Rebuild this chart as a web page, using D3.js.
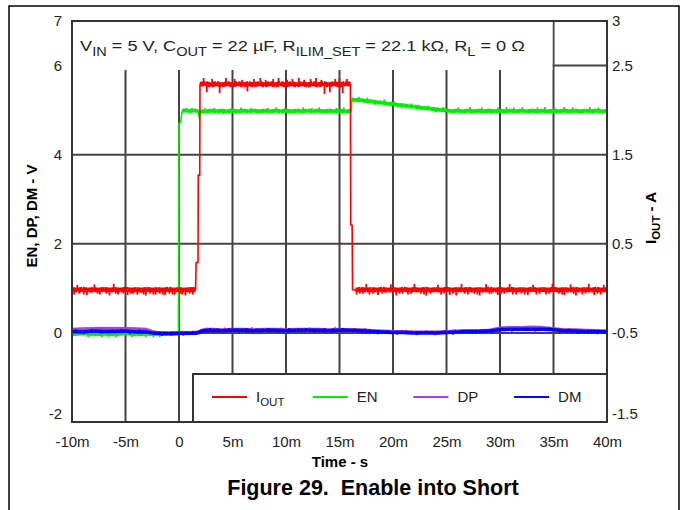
<!DOCTYPE html>
<html><head><meta charset="utf-8">
<script src="https://cdn.jsdelivr.net/npm/d3@7"></script>
<style>
body{margin:0;background:#fff}
svg{display:block}
text{font-family:"Liberation Sans",Arial,Helvetica,sans-serif}
</style>
</head><body>
<svg id="c" width="683" height="510"></svg>
<script>
// ---------- data ----------
const timeTicks = [-10,-5,0,5,10,15,20,25,30,35,40];
const timeTickLabels = ["-10m","-5m","0","5m","10m","15m","20m","25m","30m","35m","40m"];
const leftTicks = [-2,0,2,4,6,7];
const leftTickLabels = ["-2","0","2","4","6","7"];
const rightTicks = [-1.5,-0.5,0.5,1.5,2.5,3];
const rightTickLabels = ["-1.5","-0.5","0.5","1.5","2.5","3"];
const leftGrid = [0,2,4,6];
const seriesNames = ["IOUT","EN","DP","DM"];
const seriesColors = ["#ff0000","#00ee00","#a83cf0","#0000ff"];

// IOUT (A, right axis) vs time (ms)
const iout = [
[-10,-0.012],[-9.5,-0.02],[-9,-0.01],[-8.5,-0.02],[-8,-0.012],[-7.5,-0.02],[-7,-0.01],[-6.5,-0.02],[-6,-0.012],[-5.5,-0.02],[-5,-0.01],[-4.5,-0.02],[-4,-0.012],[-3.5,-0.02],[-3,-0.01],[-2.5,-0.02],[-2,-0.012],[-1.5,-0.02],[-1,-0.01],[-0.5,-0.02],[0,-0.012],[0.5,-0.02],[1,-0.012],[1.55,-0.015],
[1.6,0.29],[1.78,0.29],[1.8,1.27],[1.94,1.27],[1.96,2.29],
[2.5,2.3],[3,2.28],[3.5,2.3],[4,2.28],[4.5,2.3],[5,2.28],[5.5,2.3],[6,2.28],[6.5,2.3],[7,2.28],[7.5,2.3],[8,2.28],[8.5,2.3],[9,2.28],[9.5,2.3],[10,2.28],[10.5,2.3],[11,2.28],[11.5,2.3],[12,2.28],[12.5,2.3],[13,2.28],[13.5,2.3],[14,2.28],[14.5,2.3],[15,2.28],[15.5,2.3],[16.02,2.29],
[16.05,0.71],[16.18,0.71],[16.22,-0.015],
[16.5,-0.02],[17,-0.01],[17.5,-0.02],[18,-0.012],[18.5,-0.02],[19,-0.01],[19.5,-0.02],[20,-0.012],[20.5,-0.02],[21,-0.01],[21.5,-0.02],[22,-0.012],[22.5,-0.02],[23,-0.01],[23.5,-0.02],[24,-0.012],[24.5,-0.02],[25,-0.01],[25.5,-0.02],[26,-0.012],[26.5,-0.02],[27,-0.01],[27.5,-0.02],[28,-0.012],[28.5,-0.02],[29,-0.01],[29.5,-0.02],[30,-0.012],[30.5,-0.02],[31,-0.01],[31.5,-0.02],[32,-0.012],[32.5,-0.02],[33,-0.01],[33.5,-0.02],[34,-0.012],[34.5,-0.02],[35,-0.01],[35.5,-0.02],[36,-0.012],[36.5,-0.02],[37,-0.01],[37.5,-0.02],[38,-0.012],[38.5,-0.02],[39,-0.01],[39.5,-0.02],[40,-0.012]
];
const ioutSpikes = [
[-9.8,-0.07],[-9.5,0.04],[-9.3,-0.06],[-8.9,-0.07],[-8.6,-0.075],[-8.2,-0.05],[-7.9,0.045],[-7.6,-0.06],[-7.4,-0.07],[-6.8,-0.06],[-6.5,-0.08],[-6.1,0.05],[-5.9,-0.06],[-5.7,-0.07],[-5.2,-0.06],[-4.8,-0.075],[-4.5,-0.06],[-4.3,-0.06],[-3.9,-0.07],[-3.5,-0.05],[-3.3,-0.07],[-3.1,-0.08],[-2.7,-0.06],[-2.4,-0.07],[-2.2,-0.07],[-1.8,-0.06],[-1.5,-0.07],[-1.3,-0.075],[-0.9,-0.06],[-0.6,-0.07],[-0.4,-0.07],[0.1,-0.06],[0.3,-0.07],[0.6,-0.08],[1.0,-0.06],[1.3,-0.07],
[2.3,2.36],[2.6,2.2],[3.1,2.35],[3.8,2.19],[4.4,2.36],[5.2,2.35],[5.9,2.34],[6.4,2.21],[7.0,2.35],[7.6,2.36],[8.1,2.34],[8.8,2.35],[9.3,2.36],[10.1,2.34],[10.6,2.35],[11.2,2.36],[11.7,2.34],[12.3,2.35],[12.8,2.36],[13.3,2.34],[13.6,2.18],[14.1,2.2],[14.6,2.35],[15.0,2.36],[15.3,2.19],[15.7,2.35],
[16.6,-0.07],[16.9,-0.06],[17.2,-0.06],[17.5,0.05],[17.8,-0.07],[18.1,-0.06],[18.6,-0.075],[19.0,-0.06],[19.3,-0.05],[19.8,0.045],[20.3,-0.08],[20.6,-0.06],[20.9,-0.06],[21.4,-0.07],[21.7,-0.06],[22.0,0.05],[22.6,-0.06],[22.9,-0.07],[23.1,-0.08],[23.5,-0.06],[24.2,0.04],[24.5,-0.07],[24.8,-0.06],[25.3,-0.075],[25.6,-0.06],[25.9,-0.08],[26.4,0.05],[26.7,-0.06],[27.0,-0.07],[27.6,-0.06],[27.9,-0.07],[28.1,-0.08],[28.7,0.045],[29.0,-0.06],[29.2,-0.06],[29.8,-0.075],[30.1,-0.06],[30.4,-0.06],[30.9,0.05],[31.2,-0.07],[31.5,-0.07],[32.0,-0.06],[32.3,-0.07],[32.6,-0.075],[33.1,0.04],[33.4,-0.07],[33.7,-0.06],[34.3,-0.07],[34.6,-0.06],[34.9,0.05],[35.5,-0.06],[35.8,-0.07],[36.0,-0.075],[36.6,0.045],[36.9,-0.06],[37.1,-0.08],[37.7,-0.07],[38.0,-0.06],[38.3,0.05],[38.8,-0.075],[39.1,-0.06],[39.4,-0.07],[39.7,0.04]
];

// EN (V, left axis)
const en = [
[-10,-0.03],[-9,-0.01],[-8,-0.03],[-7,-0.02],[-6,-0.03],[-5,-0.01],[-4,-0.03],[-3,-0.02],[-2,-0.03],[-1,-0.01],[-0.05,-0.02],
[0,4.71],[0.15,4.72],[0.3,4.98],[0.6,5.0],[1.0,4.97],[1.4,5.0],[1.8,4.97],[1.9,4.82],[2.0,4.97],
[2.5,4.97],[3,4.99],[3.5,4.97],[4,4.99],[4.5,4.97],[5,4.99],[5.5,4.97],[6,4.99],[6.5,4.97],[7,4.99],[7.5,4.97],[8,4.99],[8.5,4.97],[9,4.99],[9.5,4.97],[10,4.99],[10.5,4.97],[11,4.99],[11.5,4.97],[12,4.99],[12.5,4.97],[13,4.99],[13.5,4.97],[14,4.99],[14.5,4.97],[15,4.99],[15.5,4.97],[16.1,4.98],
[16.15,5.24],[16.5,5.22],[17,5.23],[17.5,5.2],[18,5.2],[18.5,5.17],[19,5.17],[19.5,5.14],[20,5.14],[20.5,5.11],[21,5.11],[21.5,5.08],[22,5.08],[22.5,5.05],[23,5.05],[23.5,5.03],[24,5.02],[24.5,5.0],[25,5.0],[25.5,4.97],[26,4.99],[26.5,4.97],[27,4.99],[27.5,4.97],[28,4.99],[28.5,4.97],[29,4.99],[29.5,4.97],[30,4.99],[30.5,4.97],[31,4.99],[31.5,4.97],[32,4.99],[32.5,4.97],[33,4.99],[33.5,4.97],[34,4.99],[34.5,4.97],[35,4.99],[35.5,4.97],[36,4.99],[36.5,4.97],[37,4.99],[37.5,4.97],[38,4.99],[38.5,4.97],[39,4.99],[39.5,4.97],[40,4.98]
];
const enSpikes = [
[-8.5,-0.1],[-7.2,-0.1],[-6.6,-0.09],[-5.9,-0.1],[-4.4,-0.09],[-3.1,-0.1],[-2.4,-0.1],[-1.8,-0.09],
[0.7,5.05],[1.2,5.05],[2.4,5.05],[3.3,5.05],[4.1,4.91],[4.9,5.05],[5.8,5.06],[6.7,5.05],[7.4,4.92],[8.3,5.05],[9.1,5.06],[9.9,5.05],[10.8,4.92],[11.6,5.06],[12.4,5.05],[13.1,5.06],[13.9,4.92],[14.7,5.05],[15.4,5.06],
[16.8,5.3],[17.6,5.28],[18.3,5.12],[19.2,5.24],[20.1,5.2],[20.8,5.05],[21.7,5.15],[22.4,5.12],[23.3,5.1],[24.0,4.95],[24.7,5.07],[26.1,5.06],[27.2,5.07],[28.3,5.06],[29.1,4.92],[29.8,5.06],[30.6,5.07],[31.3,5.06],[32.1,5.07],[32.8,4.92],[33.5,5.06],[34.2,5.07],[35.1,5.06],[36.0,5.07],[36.8,5.06],[37.6,4.92],[38.4,5.07],[39.2,5.06]
];

// DP (V, left axis)
const dp = [
[-10,0.07],[-9,0.08],[-8,0.09],[-7,0.09],[-6,0.09],[-5,0.09],[-4,0.08],[-3,0.07],[-2.5,0.02],[-2,0.0],[-1,-0.01],[0,0.0],[1,0.0],[1.8,0.01],[2.2,0.06],[3,0.07],[4,0.06],[5,0.07],[6,0.07],[7,0.06],[8,0.07],[9,0.07],[10,0.06],[11,0.07],[12,0.07],[13,0.07],[14,0.06],[15,0.07],[16,0.06],[17,0.06],[18,0.04],[19,0.03],[20,0.02],[21,0.02],[22,0.01],[23,0.01],[24,0.01],[25,0.02],[26,0.03],[27,0.04],[28,0.04],[29,0.05],[30,0.1],[31,0.11],[32,0.11],[33,0.12],[34,0.11],[35,0.09],[36,0.06],[37,0.06],[38,0.05],[39,0.04],[40,0.03]
];
const dpSpikes = [
[2.6,0.12],[4.3,0.12],[6.8,0.13],[9.5,0.12],[12.2,0.12],[14.6,0.13],[17.4,0.11],[21.2,0.07],[25.8,0.08],[31.6,0.16],[33.8,0.16],[36.4,0.11]
];

// DM (V, left axis)
const dm = [
[-10,0.03],[-9,0.02],[-8,0.04],[-7,0.03],[-6,0.03],[-5,0.04],[-4,0.02],[-3,0.02],[-2.5,0.0],[-2,-0.01],[-1,-0.02],[0,-0.01],[1,-0.01],[1.8,0.0],[2.2,0.05],[3,0.06],[4,0.05],[5,0.06],[6,0.06],[7,0.05],[8,0.06],[9,0.06],[10,0.05],[11,0.06],[12,0.06],[13,0.06],[14,0.05],[15,0.06],[16,0.06],[17,0.05],[18,0.03],[19,0.02],[20,0.01],[21,0.01],[22,0.0],[23,0.0],[24,0.0],[25,0.01],[26,0.02],[27,0.03],[28,0.03],[29,0.04],[30,0.07],[31,0.08],[32,0.08],[33,0.08],[34,0.08],[35,0.07],[36,0.05],[37,0.04],[38,0.03],[39,0.03],[40,0.02]
];
const dmSpikes = [
[-9.6,0.08],[-8.9,-0.03],[-8.1,0.09],[-7.3,-0.02],[-6.2,0.08],[-5.4,0.09],[-4.6,-0.03],[-3.7,0.08],[-1.6,-0.07],[-0.7,-0.06],[0.4,-0.06],[1.3,0.04],
[2.9,0.11],[3.6,0.1],[4.7,0.11],[5.6,0.01],[6.3,0.11],[7.2,0.1],[8.4,0.11],[9.2,0.01],[10.3,0.11],[11.1,0.1],[11.9,0.11],[12.7,0.01],[13.6,0.11],[14.4,0.1],[15.3,0.11],[16.4,0.1],
[17.1,-0.01],[17.8,0.08],[18.6,-0.03],[19.5,0.06],[20.4,-0.04],[21.3,0.05],[22.2,-0.05],[23.1,0.05],[23.9,-0.05],[24.8,0.05],[25.6,-0.04],[26.5,0.07],[27.4,-0.02],[28.2,0.07],[29.2,-0.01],[30.2,0.12],[31.1,0.03],[32.4,0.12],[33.3,0.03],[34.6,0.12],[35.6,0.01],[36.5,0.09],[37.3,-0.02],[38.2,0.07],[39.1,-0.03],[39.8,0.07]
];

const annotationParts = [["V",0],["IN",1],[" = 5 V, C",0],["OUT",1],[" = 22 \u00b5F, R",0],["ILIM_SET",1],[" = 22.1 k\u03a9, R",0],["L",1],[" = 0 \u03a9",0]];

// ---------- drawing ----------
const svg = d3.select("#c");
const L = 72, R = 607, T = 21, B = 422;
const x = d3.scaleLinear().domain([-10,40]).range([L,R]);
const yL = d3.scaleLinear().domain([-2,7]).range([B,T]);
const yR = d3.scaleLinear().domain([-1.5,3]).range([B,T]);
const gridCol = "#444";

// outer figure frame
svg.append("path").attr("d","M9,510V6H679V510").attr("fill","none").attr("stroke","#000").attr("stroke-width",1.5);

// grid
const g = svg.append("g");
g.selectAll(".vg").data(timeTicks.slice(1,-1)).join("line")
  .attr("x1",d=>x(d)).attr("x2",d=>x(d)).attr("y1",T).attr("y2",B)
  .attr("stroke",gridCol).attr("stroke-width",2);
g.selectAll(".hg").data(leftGrid).join("line")
  .attr("x1",L).attr("x2",R).attr("y1",d=>yL(d)).attr("y2",d=>yL(d))
  .attr("stroke",gridCol).attr("stroke-width",2);

// annotation box (white, hides grid)
svg.append("rect").attr("x",L+1).attr("y",T+1).attr("width",x(35)-1-(L+1)).attr("height",48).attr("fill","#fff");
const annG = svg.append("g");
const ann = annG.append("text").attr("x",0).attr("y",0).attr("font-size",15).attr("fill","#222").style("white-space","pre");
let prevSub = 0;
annotationParts.forEach(([s,sub])=>{
  const t = ann.append("tspan").text(s).attr("font-size", sub?12:15);
  if (sub!==prevSub) t.attr("dy", sub?5:-5);
  prevSub = sub;
});
const annW = ann.node().getComputedTextLength();
annG.attr("transform",`translate(80,51) scale(${445/annW},1)`);

// traces
function baseAt(series,t){
  const i = d3.bisector(d=>d[0]).left(series,t);
  if(i<=0) return series[0][1];
  if(i>=series.length) return series[series.length-1][1];
  const a=series[i-1], b=series[i];
  return a[1]+(b[1]-a[1])*(t-a[0])/(b[0]-a[0]);
}
function drawSeries(series, spikes, yS, color, w){
  const line = d3.line().x(d=>x(d[0])).y(d=>yS(d[1]));
  // thin full trace (steps stay thin)
  svg.append("path").datum(series).attr("d",line).attr("fill","none")
    .attr("stroke",color).attr("stroke-width",1.6).attr("stroke-linejoin","round");
  // thick noise band only on long, near-flat segments
  const segs = d3.pairs(series).filter(([a,b])=>Math.abs(yS(a[1])-yS(b[1]))<6 && (x(b[0])-x(a[0]))>3);
  svg.append("g").selectAll("line").data(segs).join("line")
    .attr("x1",d=>x(d[0][0])).attr("x2",d=>x(d[1][0]))
    .attr("y1",d=>yS(d[0][1])).attr("y2",d=>yS(d[1][1]))
    .attr("stroke",color).attr("stroke-width",w).attr("stroke-linecap","butt");
  svg.append("g").selectAll("line").data(spikes).join("line")
    .attr("x1",d=>x(d[0])).attr("x2",d=>x(d[0]))
    .attr("y1",d=>yS(baseAt(series,d[0]))).attr("y2",d=>yS(d[1]))
    .attr("stroke",color).attr("stroke-width",1.8);
}
drawSeries(en, enSpikes, yL, seriesColors[1], 4);
drawSeries(iout, ioutSpikes, yR, seriesColors[0], 5);
drawSeries(dp, dpSpikes, yL, seriesColors[2], 4);
drawSeries(dm, dmSpikes, yL, seriesColors[3], 3.5);

// legend box
const lg = svg.append("g");
lg.append("rect").attr("x",193).attr("y",374).attr("width",R-193).attr("height",B-374).attr("fill","#fff");
lg.append("path").attr("d",`M193,${B}V374H${R}`).attr("fill","none").attr("stroke","#333").attr("stroke-width",2);
seriesNames.forEach((n,i)=>{
  const lx = 212 + i*100.7;
  lg.append("line").attr("x1",lx).attr("x2",lx+35).attr("y1",397).attr("y2",397)
    .attr("stroke",seriesColors[i]).attr("stroke-width",2);
  const t = lg.append("text").attr("x",lx+44).attr("y",402).attr("font-size",15).attr("fill","#222");
  if(n==="IOUT"){
    t.append("tspan").text("I");
    t.append("tspan").text("OUT").attr("font-size",11.5).attr("dy",4);
  } else t.text(n);
});

// plot frame
svg.append("rect").attr("x",L).attr("y",T).attr("width",R-L).attr("height",B-T)
  .attr("fill","none").attr("stroke","#333").attr("stroke-width",2);

// axes
const axL = svg.append("g").attr("transform",`translate(${L},0)`)
  .call(d3.axisLeft(yL).tickValues(leftTicks).tickFormat((d,i)=>leftTickLabels[i]).tickSize(0).tickPadding(10));
const axR = svg.append("g").attr("transform",`translate(${R},0)`)
  .call(d3.axisRight(yR).tickValues(rightTicks).tickFormat((d,i)=>rightTickLabels[i]).tickSize(0).tickPadding(5));
const axB = svg.append("g").attr("transform",`translate(0,${B})`)
  .call(d3.axisBottom(x).tickValues(timeTicks).tickFormat((d,i)=>timeTickLabels[i]).tickSize(0).tickPadding(14));
[axL,axR,axB].forEach(a=>{
  a.select(".domain").remove();
  a.selectAll("text").attr("font-size",15).attr("fill","#222").attr("font-family","Liberation Sans, Arial, sans-serif");
});
// lowest y labels sit just above the bottom frame
axL.selectAll(".tick").filter(d=>d===-2).select("text").attr("dy","-0.25em");
axR.selectAll(".tick").filter(d=>d===-1.5).select("text").attr("dy","-0.25em");

// axis titles
svg.append("text").attr("x",340).attr("y",467).attr("text-anchor","middle")
  .attr("font-size",15).attr("font-weight","bold").text("Time - s");
svg.append("text").attr("transform","translate(37,216) rotate(-90)").attr("text-anchor","middle")
  .attr("font-size",15).attr("font-weight","bold").text("EN, DP, DM - V");
const rt = svg.append("text").attr("transform","translate(656,218) rotate(-90)").attr("text-anchor","middle")
  .attr("font-size",15).attr("font-weight","bold").style("white-space","pre");
rt.append("tspan").text("I");
rt.append("tspan").text("OUT").attr("font-size",11.5).attr("dy",4);
rt.append("tspan").text(" - A").attr("dy",-4);

// caption
svg.append("text").attr("x",373).attr("y",495).attr("text-anchor","middle")
  .attr("font-size",21.5).attr("font-weight","bold").style("white-space","pre")
  .text("Figure 29.  Enable into Short");
</script>
</body></html>
